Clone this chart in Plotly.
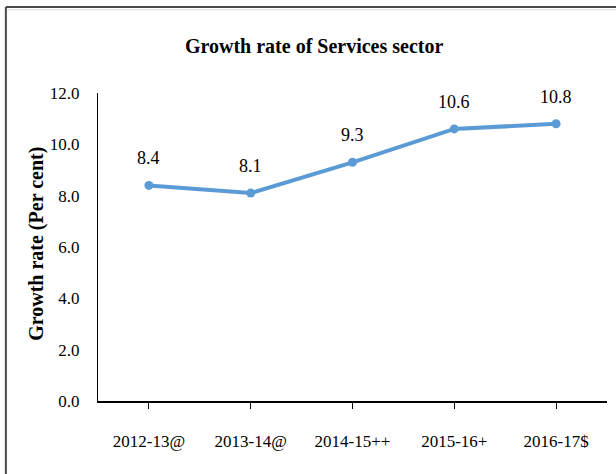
import plotly.graph_objects as go

# Growth rate of services sector (per cent)
years = ["2012-13@", "2013-14@", "2014-15++", "2015-16+", "2016-17$"]
growth = [8.4, 8.1, 9.3, 10.6, 10.8]
y_ticks = [0, 2, 4, 6, 8, 10, 12]

FONT = "Liberation Serif, Times New Roman, serif"
LINE_COLOR = "#5b9bd5"

fig = go.Figure()

fig.add_trace(
    go.Scatter(
        x=years,
        y=growth,
        mode="lines+markers",
        line=dict(color=LINE_COLOR, width=4),
        marker=dict(color=LINE_COLOR, size=9),
        hoverinfo="x+y",
        showlegend=False,
    )
)

# data labels above each point
for yr, val in zip(years, growth):
    fig.add_annotation(
        x=yr, y=val, text=f"{val:.1f}", showarrow=False,
        yshift=27, font=dict(family=FONT, size=18, color="#000000"),
    )

# y axis title as a rotated annotation
fig.add_annotation(
    x=-0.12, y=0.51, xref="paper", yref="paper",
    text="<b>Growth rate (Per cent)</b>", textangle=-90, showarrow=False,
    xanchor="center", yanchor="middle",
    font=dict(family=FONT, size=20, color="#000000"),
)

# outer frame (top and left edges visible)
fig.add_shape(type="line", xref="paper", yref="paper",
              x0=-0.181, x1=1.02, y0=1.279, y1=1.279,
              line=dict(color="#4a4a4a", width=2))
fig.add_shape(type="line", xref="paper", yref="paper",
              x0=-0.181, x1=1.02, y0=1.27, y1=1.27,
              line=dict(color="#d9d9d9", width=1))
fig.add_shape(type="line", xref="paper", yref="paper",
              x0=-0.181, x1=-0.181, y0=1.279, y1=-0.24,
              line=dict(color="#4a4a4a", width=2))

fig.update_layout(
    width=616,
    height=474,
    margin=dict(l=98, r=9, t=93, b=73),
    paper_bgcolor="white",
    plot_bgcolor="white",
    font=dict(family=FONT, size=16, color="#000000"),
    title=dict(
        text="<b>Growth rate of Services sector</b>",
        x=0.51, xanchor="center", y=0.903, yanchor="middle",
        font=dict(family=FONT, size=20, color="#000000"),
    ),
    xaxis=dict(
        type="category",
        range=[-0.5, 4.5],
        showline=True, linecolor="#000000", linewidth=2,
        ticks="outside", ticklen=6, tickcolor="#000000",
        showgrid=False, zeroline=False,
        ticklabelstandoff=18,
        tickfont=dict(family=FONT, size=17),
    ),
    yaxis=dict(
        range=[0, 12],
        tickvals=y_ticks,
        tickformat=".1f",
        showline=True, linecolor="#000000", linewidth=1,
        ticks="", showgrid=False, zeroline=False,
        ticklabelstandoff=14,
        tickfont=dict(family=FONT, size=17),
    ),
)

# drop the default page margin so the figure sits at the window's corner
fig.write_html(
    "out.html",
    config={"displayModeBar": False},
    post_script="document.body.style.margin='0px';",
)
